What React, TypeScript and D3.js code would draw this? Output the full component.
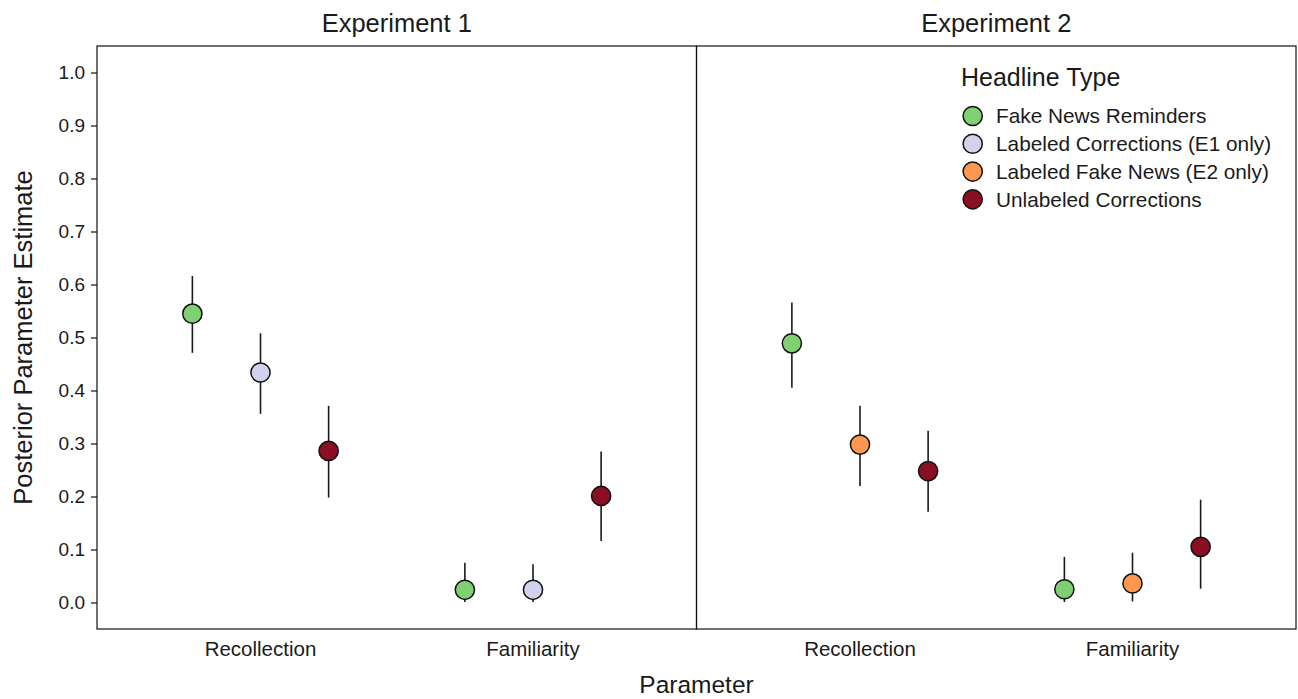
// Posterior parameter estimates by headline type, two experiments side by side.
import React, { useRef, useEffect } from 'react';
import * as d3 from 'd3';

// the data
const experiments = ['Experiment 1', 'Experiment 2'];
const parameters = ['Recollection', 'Familiarity'];
const headlineTypes = [
  'Fake News Reminders',
  'Labeled Corrections (E1 only)',
  'Labeled Fake News (E2 only)',
  'Unlabeled Corrections'
];
const typeColors = ['#80d073', '#d2d2ec', '#fd964f', '#8a0f22'];

// which headline types show up in each experiment (index into headlineTypes)
const e1Types = [0, 1, 3];
const e2Types = [0, 2, 3];

// rows = parameter (Recollection, Familiarity), cols = the types above
const e1Est = [[0.545, 0.434, 0.286], [0.024, 0.024, 0.201]];
const e1Low = [[0.471, 0.356, 0.198], [0.001, 0.001, 0.116]];
const e1High = [[0.616, 0.508, 0.371], [0.075, 0.072, 0.285]];

const e2Est = [[0.489, 0.298, 0.248], [0.025, 0.036, 0.105]];
const e2Low = [[0.405, 0.220, 0.171], [0.001, 0.002, 0.026]];
const e2High = [[0.566, 0.371, 0.324], [0.086, 0.094, 0.194]];

const yTicks = [0, 0.1, 0.2, 0.3, 0.4, 0.5, 0.6, 0.7, 0.8, 0.9, 1.0];

function App() {
  const ref = useRef<SVGSVGElement>(null);
  const width = 1298;
  const height = 699;
  const margin = { top: 46, right: 2, bottom: 70, left: 97 };
  const font = '"Liberation Sans", Arial, Helvetica, sans-serif';

  useEffect(() => {
    const svg = d3.select(ref.current);
    svg.selectAll('*').remove();

    const plotW = width - margin.left - margin.right;
    const panelW = plotW / 2;
    const bottom = height - margin.bottom;

    const yScale = d3.scaleLinear()
      .domain([-0.05, 1.05])
      .range([bottom, margin.top]);

    const panels = [
      { title: experiments[0], types: e1Types, est: e1Est, low: e1Low, high: e1High },
      { title: experiments[1], types: e2Types, est: e2Est, low: e2Low, high: e2High }
    ];

    panels.forEach((p, pi) => {
      const left = margin.left + pi * panelW;
      const g = svg.append('g');

      // ggplot-ish discrete axis: 0.6 units of space on each side
      const xScale = d3.scaleBand()
        .domain(parameters)
        .range([left, left + panelW])
        .paddingInner(0)
        .paddingOuter(0.1);
      const step = xScale.bandwidth();
      const dodge = d3.scaleBand()
        .domain(d3.range(p.types.length).map(String))
        .range([-0.375 * step, 0.375 * step]);

      // facet title
      g.append('text')
        .attr('x', left + panelW / 2)
        .attr('y', 32)
        .attr('text-anchor', 'middle')
        .style('font-family', font)
        .style('font-size', '25.5px')
        .style('fill', '#1a1a1a')
        .text(p.title);

      // category labels, no tick marks
      parameters.forEach(param => {
        g.append('text')
          .attr('x', xScale(param)! + step / 2)
          .attr('y', bottom + 27)
          .attr('text-anchor', 'middle')
          .style('font-family', font)
          .style('font-size', '20.5px')
          .style('fill', '#1a1a1a')
          .text(param);
      });

      // flatten to points
      const pts: any[] = [];
      parameters.forEach((param, ri) => {
        p.types.forEach((t, ci) => {
          pts.push({
            x: xScale(param)! + step / 2 + dodge(String(ci))! + dodge.bandwidth() / 2,
            est: p.est[ri][ci],
            low: p.low[ri][ci],
            high: p.high[ri][ci],
            color: typeColors[t]
          });
        });
      });

      g.selectAll('.err')
        .data(pts)
        .enter()
        .append('line')
        .attr('class', 'err')
        .attr('x1', d => d.x)
        .attr('x2', d => d.x)
        .attr('y1', d => yScale(d.low))
        .attr('y2', d => yScale(d.high))
        .style('stroke', '#1a1a1a')
        .style('stroke-width', 1.6);

      g.selectAll('.pt')
        .data(pts)
        .enter()
        .append('circle')
        .attr('class', 'pt')
        .attr('cx', d => d.x)
        .attr('cy', d => yScale(d.est))
        .attr('r', 9.6)
        .style('fill', d => d.color)
        .style('stroke', '#111')
        .style('stroke-width', 1.5);

      // panel border
      g.append('rect')
        .attr('x', left)
        .attr('y', margin.top)
        .attr('width', panelW)
        .attr('height', bottom - margin.top)
        .style('fill', 'none')
        .style('stroke', '#111')
        .style('stroke-width', 1.2);
    });

    // y axis on the left panel
    const yAxis = svg.append('g')
      .attr('transform', `translate(${margin.left},0)`)
      .call(d3.axisLeft(yScale).tickValues(yTicks).tickFormat(d3.format('.1f')).tickSize(6).tickPadding(6));
    yAxis.select('.domain').remove();
    yAxis.selectAll('line').style('stroke', '#111').style('stroke-width', 1.2);
    yAxis.selectAll('text')
      .style('font-family', font)
      .style('font-size', '19px')
      .style('fill', '#1a1a1a');

    // axis titles
    svg.append('text')
      .attr('transform', `translate(32,${(margin.top + bottom) / 2}) rotate(-90)`)
      .attr('text-anchor', 'middle')
      .style('font-family', font)
      .style('font-size', '25.5px')
      .style('fill', '#1a1a1a')
      .text('Posterior Parameter Estimate');

    svg.append('text')
      .attr('x', margin.left + plotW / 2)
      .attr('y', 693)
      .attr('text-anchor', 'middle')
      .style('font-family', font)
      .style('font-size', '24.5px')
      .style('fill', '#1a1a1a')
      .text('Parameter');

    // legend
    const legend = svg.append('g');
    legend.append('text')
      .attr('x', 961)
      .attr('y', 86)
      .style('font-family', font)
      .style('font-size', '25px')
      .style('fill', '#1a1a1a')
      .text('Headline Type');

    const legendY = d3.scalePoint()
      .domain(headlineTypes)
      .range([116, 199.3]);

    headlineTypes.forEach((name, i) => {
      const cy = legendY(name)!;
      legend.append('circle')
        .attr('cx', 972.7)
        .attr('cy', cy)
        .attr('r', 9.6)
        .style('fill', typeColors[i])
        .style('stroke', '#111')
        .style('stroke-width', 1.5);
      legend.append('text')
        .attr('x', 996)
        .attr('y', cy + 7.4)
        .style('font-family', font)
        .style('font-size', '20.8px')
        .style('fill', '#1a1a1a')
        .text(name);
    });
  }, []);

  return (
    <svg
      ref={ref}
      width={width}
      height={height}
      style={{ position: 'absolute', left: 0, top: 0, background: '#fff' }}
    />
  );
}

export default App;
